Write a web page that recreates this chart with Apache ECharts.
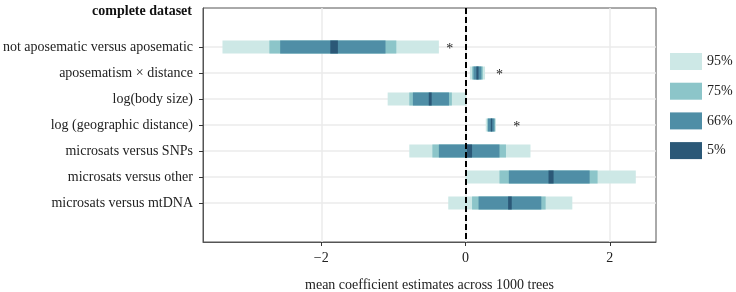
<!DOCTYPE html>
<html>
<head>
<meta charset="utf-8">
<script src="https://cdn.jsdelivr.net/npm/echarts@6/dist/echarts.min.js"></script>
<style>
  html, body { margin: 0; padding: 0; background: #fff; }
  #chart { width: 736px; height: 292px; }
</style>
</head>
<body>
<div id="chart"></div>
<script>
// predictors, top to bottom
const categories = [
    'not aposematic versus aposematic',
    'aposematism \u00d7 distance',
    'log(body size)',
    'log (geographic distance)',
    'microsats versus SNPs',
    'microsats versus other',
    'microsats versus mtDNA'
];
const rowPos = [1, 2, 3, 4, 5, 6, 7];

// interval bounds per level (same row order as categories)
const lo95 = [-3.37, 0.06, -1.08, 0.28, -0.78, 0.00, -0.24];
const hi95 = [-0.37, 0.27, 0.01, 0.42, 0.90, 2.36, 1.48];
const lo75 = [-2.72, 0.09, -0.78, 0.30, -0.46, 0.47, 0.09];
const hi75 = [-0.96, 0.24, -0.19, 0.41, 0.56, 1.83, 1.11];
const lo66 = [-2.57, 0.11, -0.73, 0.31, -0.37, 0.60, 0.18];
const hi66 = [-1.11, 0.22, -0.23, 0.40, 0.47, 1.72, 1.05];
const lo5 = [-1.875, 0.15, -0.51, 0.35, 0.02, 1.15, 0.59];
const hi5 = [-1.77, 0.18, -0.47, 0.37, 0.09, 1.22, 0.64];

// significance stars
const starX = [-0.22, 0.47, 0.71];
const starRow = [1, 2, 4];

const xTicks = [-2, 0, 2];
const levels = ['95%', '75%', '66%', '5%'];
const colors = ['#cde8e6', '#8cc5c9', '#4f8ea6', '#2b5877'];

const font = "'Liberation Serif', 'DejaVu Serif', serif";

const myChart = echarts.init(document.getElementById('chart'));

function barSeries(name, color, lo, hi) {
    return {
        name: name,
        type: 'custom',
        color: color,
        encode: { x: [0, 1], y: 2 },
        data: rowPos.map((r, i) => [lo[i], hi[i], r]),
        renderItem: function (params, api) {
            const a = api.coord([api.value(0), api.value(2)]);
            const b = api.coord([api.value(1), api.value(2)]);
            const h = api.size([0, 1])[1] * 0.5;
            return {
                type: 'rect',
                shape: { x: a[0], y: a[1] - h / 2, width: b[0] - a[0], height: h },
                style: { fill: color }
            };
        }
    };
}

const series = [
    barSeries(levels[0], colors[0], lo95, hi95),
    barSeries(levels[1], colors[1], lo75, hi75),
    barSeries(levels[2], colors[2], lo66, hi66),
    barSeries(levels[3], colors[3], lo5, hi5),
    {
        type: 'custom',
        encode: { x: 0, y: 1 },
        data: starX.map((x, i) => [x, starRow[i]]),
        renderItem: function (params, api) {
            const p = api.coord([api.value(0), api.value(1)]);
            return {
                type: 'text',
                x: p[0], y: p[1] + 2,
                style: { text: '*', font: '14px ' + font, fill: '#222', align: 'center', verticalAlign: 'middle' }
            };
        },
        markLine: {
            silent: true,
            symbol: ['none', 'none'],
            label: { show: false },
            lineStyle: { color: '#000', type: [6, 3], width: 2 },
            data: [{ xAxis: 0 }]
        }
    }
];

const option = {
    animation: false,
    backgroundColor: '#fff',
    textStyle: { fontFamily: font },
    title: {
        text: 'complete dataset',
        right: 544,
        top: 4,
        padding: 0,
        textStyle: { fontFamily: font, fontSize: 14, fontWeight: 'bold', color: '#111' }
    },
    legend: {
        orient: 'vertical',
        left: 670,
        top: 53,
        padding: 0,
        itemWidth: 32,
        itemHeight: 17,
        itemGap: 12.7,
        icon: 'rect',
        data: levels,
        textStyle: { fontFamily: font, fontSize: 14, color: '#222' }
    },
    grid: {
        left: 203,
        right: 80,
        top: 8,
        bottom: 50,
        outerBoundsMode: 'none',
        containLabel: false,
        show: true,
        borderColor: '#555',
        borderWidth: 1
    },
    xAxis: {
        type: 'value',
        min: -3.64,
        max: 2.64,
        name: 'mean coefficient estimates across 1000 trees',
        nameLocation: 'middle',
        nameGap: 36,
        nameTextStyle: { fontFamily: font, fontSize: 14, color: '#222' },
        axisLine: { show: true, onZero: false, lineStyle: { color: '#555' } },
        axisTick: { show: true, customValues: xTicks, length: 4, lineStyle: { color: '#333' } },
        axisLabel: {
            customValues: xTicks,
            margin: 9,
            fontFamily: font,
            fontSize: 14,
            color: '#222',
            formatter: v => (v < 0 ? '\u2212' + Math.abs(v) : String(v))
        },
        splitLine: { show: true, lineStyle: { color: '#ebebeb', width: 1.5 } }
    },
    yAxis: {
        type: 'value',
        inverse: true,
        min: -0.5,
        max: 8.5,
        axisLine: { show: true, onZero: false, lineStyle: { color: '#555' } },
        axisTick: { show: true, customValues: rowPos, length: 4, lineStyle: { color: '#333' } },
        axisLabel: {
            customValues: rowPos,
            margin: 10,
            fontFamily: font,
            fontSize: 14,
            color: '#222',
            formatter: v => categories[v - 1] || ''
        },
        splitLine: { show: true, lineStyle: { color: '#ebebeb', width: 1.5 } }
    },
    series: series
};

myChart.setOption(option);
</script>
</body>
</html>
